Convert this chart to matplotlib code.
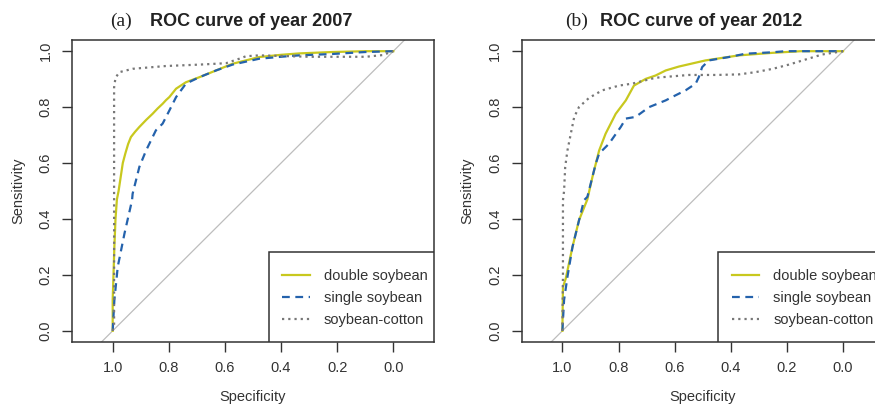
import matplotlib
matplotlib.use("Agg")
import matplotlib.pyplot as plt
from matplotlib.patches import Rectangle

plt.rcParams['font.family'] = ['Liberation Sans', 'DejaVu Sans']

# ROC curves: (specificity, sensitivity)
spec_2007_double = [1.0, 1.0, 0.994, 0.99, 0.985, 0.979, 0.97, 0.964, 0.955, 0.945, 0.935, 0.92, 0.905,
                    0.88, 0.858, 0.84, 0.822, 0.81, 0.798, 0.774, 0.739, 0.691, 0.632, 0.573, 0.478,
                    0.40, 0.336, 0.217, 0.098, 0.0]
sens_2007_double = [0.0, 0.11, 0.30, 0.40, 0.47, 0.50, 0.56, 0.60, 0.634, 0.668, 0.693, 0.712, 0.729,
                    0.755, 0.776, 0.795, 0.812, 0.825, 0.836, 0.866, 0.889, 0.907, 0.931, 0.955, 0.979,
                    0.987, 0.992, 0.997, 1.0, 1.0]

spec_2007_single = [1.0, 0.994, 0.982, 0.958, 0.931, 0.929, 0.905, 0.881, 0.846, 0.822, 0.798, 0.774,
                    0.739, 0.691, 0.632, 0.573, 0.478, 0.40, 0.336, 0.217, 0.10, 0.0]
sens_2007_single = [0.0, 0.11, 0.229, 0.348, 0.467, 0.49, 0.586, 0.645, 0.717, 0.741, 0.788, 0.836,
                    0.884, 0.907, 0.931, 0.952, 0.973, 0.980, 0.985, 0.990, 0.997, 1.0]

spec_2007_cotton = [1.0, 0.995, 0.995, 0.995, 0.99, 0.976, 0.929, 0.81, 0.691, 0.596, 0.549, 0.525,
                    0.478, 0.40, 0.30, 0.217, 0.098, 0.039, 0.0]
sens_2007_cotton = [0.0, 0.02, 0.45, 0.87, 0.905, 0.925, 0.937, 0.947, 0.952, 0.957, 0.973, 0.982,
                    0.985, 0.983, 0.980, 0.980, 0.980, 0.986, 1.0]

spec_2012_double = [1.0, 0.998, 0.988, 0.964, 0.941, 0.911, 0.893, 0.869, 0.846, 0.81, 0.774, 0.745,
                    0.703, 0.668, 0.632, 0.585, 0.49, 0.371, 0.253, 0.15, 0.0]
sens_2012_double = [0.0, 0.157, 0.187, 0.30, 0.395, 0.47, 0.55, 0.645, 0.705, 0.776, 0.824, 0.877,
                    0.901, 0.913, 0.931, 0.945, 0.967, 0.985, 0.994, 1.0, 1.0]

spec_2012_single = [1.0, 0.994, 0.982, 0.964, 0.923, 0.911, 0.881, 0.869, 0.834, 0.792, 0.774, 0.739,
                    0.691, 0.632, 0.609, 0.561, 0.525, 0.514, 0.502, 0.478, 0.407, 0.347, 0.253, 0.205, 0.0]
sens_2012_single = [0.0, 0.11, 0.193, 0.30, 0.467, 0.479, 0.598, 0.634, 0.669, 0.729, 0.759, 0.765,
                    0.80, 0.824, 0.836, 0.86, 0.884, 0.907, 0.943, 0.967, 0.979, 0.991, 0.996, 1.0, 1.0]

spec_2012_cotton = [1.0, 0.998, 0.998, 0.994, 0.99, 0.982, 0.97, 0.958, 0.941, 0.905, 0.858, 0.798,
                    0.751, 0.668, 0.549, 0.45, 0.371, 0.312, 0.25, 0.193, 0.134, 0.075, 0.0]
sens_2012_cotton = [0.0, 0.2, 0.467, 0.5, 0.586, 0.645, 0.705, 0.764, 0.8, 0.833, 0.86, 0.877,
                    0.884, 0.905, 0.915, 0.915, 0.917, 0.925, 0.937, 0.952, 0.970, 0.988, 1.0]

labels = ["double soybean", "single soybean", "soybean-cotton"]
ticks = [1.0, 0.8, 0.6, 0.4, 0.2, 0.0]
tick_labels = ["1.0", "0.8", "0.6", "0.4", "0.2", "0.0"]

colors = ["#C8C81E", "#2462AC", "#777777"]
styles = [dict(ls='-'), dict(ls=(0, (3.5, 2.5))), dict(ls=(0, (1, 1.8)))]

panels = [
    ("(a)", "ROC curve of year 2007",
     [(spec_2007_double, sens_2007_double), (spec_2007_single, sens_2007_single),
      (spec_2007_cotton, sens_2007_cotton)]),
    ("(b)", "ROC curve of year 2012",
     [(spec_2012_double, sens_2012_double), (spec_2012_single, sens_2012_single),
      (spec_2012_cotton, sens_2012_cotton)]),
]

W, H = 875, 407
fig = plt.figure(figsize=(W / 100, H / 100), dpi=100)

axes_left = [72, 521.7]
title_x = [(110, 150), (565, 600)]
frame_col = "#333333"

for i, (tag, title, curves) in enumerate(panels):
    ax = fig.add_axes([axes_left[i] / W, 1 - 342 / H, 362 / W, 302 / H])
    ax.plot([1.3, -0.3], [-0.3, 1.3], color="#BDBDBD", lw=0.9, zorder=1)
    handles = []
    for (sp, se), c, st, lab in zip(curves, colors, styles, labels):
        ln, = ax.plot(sp, se, color=c, lw=1.6, zorder=3, **st)
        handles.append(ln)
    ax.set_xlim(1.145, -0.145)
    ax.set_ylim(-0.04, 1.04)
    ax.set_xticks(ticks)
    ax.set_xticklabels(tick_labels)
    ax.set_yticks(ticks[::-1])
    ax.set_yticklabels(tick_labels[::-1], rotation=90, va='center')
    ax.tick_params(direction='out', length=7, width=1, color=frame_col,
                   labelsize=10.5, labelcolor="#333333", pad=7)
    for s in ax.spines.values():
        s.set_color(frame_col)
        s.set_linewidth(1.1)
    ax.set_xlabel("Specificity", fontsize=10.5, color="#333333", va='center')
    ax.xaxis.set_label_coords(0.5, (342 - 397) / 302)
    ax.set_ylabel("Sensitivity", fontsize=10.5, color="#333333", va='center')
    ax.yaxis.set_label_coords(-54 / 362, 0.5)

    # legend box like R's legend(), drawn as a frame in the lower-right corner
    box = Rectangle((0.543, 0.0), 0.457, 0.298, transform=ax.transAxes,
                    facecolor='white', edgecolor=frame_col, lw=1.1, zorder=4)
    ax.add_patch(box)
    leg = ax.legend(handles, labels, loc='upper left', bbox_to_anchor=(0.580, 0.243),
                    borderaxespad=0, borderpad=0, fontsize=10.5, frameon=False,
                    labelspacing=0.55, handlelength=1.9, handletextpad=0.95)
    leg.set_zorder(5)
    for t in leg.get_texts():
        t.set_color("#333333")

    fig.text(title_x[i][0] / W, 1 - 21.5 / H, tag, family=['Liberation Serif', 'DejaVu Serif'],
             fontsize=14, ha='left', va='center', color="#222222")
    fig.text(title_x[i][1] / W, 1 - 21.5 / H, title, fontsize=13, fontweight='bold',
             ha='left', va='center', color="#222222")

fig.savefig("out.png", dpi=100)
